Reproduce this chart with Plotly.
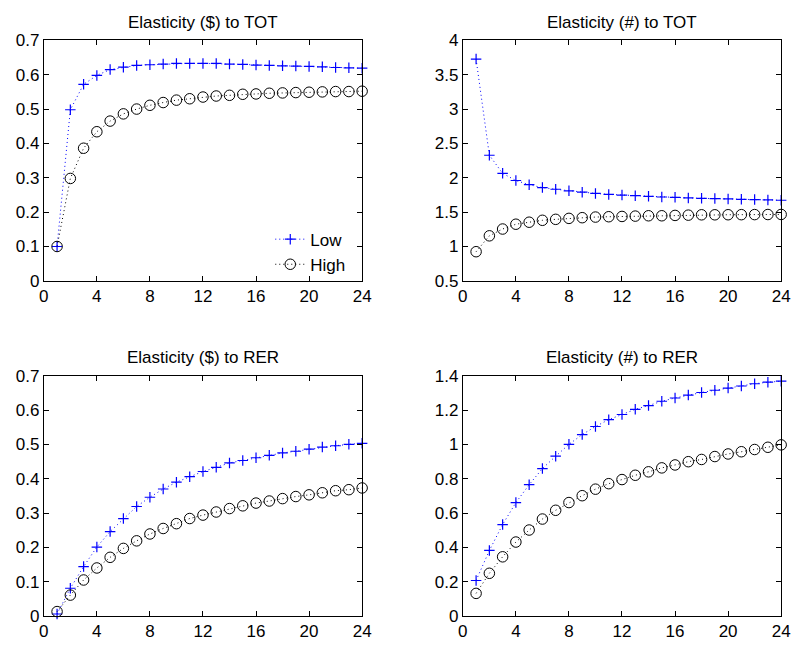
import plotly.graph_objects as go

periods = list(range(1, 25))

usd_tot_low = [0.100, 0.498, 0.572, 0.598, 0.615, 0.622, 0.627, 0.629, 0.631, 0.633, 0.633, 0.633,
               0.633, 0.631, 0.630, 0.628, 0.627, 0.626, 0.625, 0.624, 0.623, 0.621, 0.620, 0.619]
usd_tot_high = [0.100, 0.298, 0.386, 0.434, 0.465, 0.486, 0.500, 0.511, 0.519, 0.526, 0.530, 0.535,
                0.538, 0.540, 0.543, 0.544, 0.546, 0.547, 0.548, 0.549, 0.550, 0.551, 0.551, 0.552]

num_tot_low = [3.727, 2.328, 2.064, 1.960, 1.899, 1.857, 1.833, 1.810, 1.791, 1.772, 1.758, 1.748,
               1.739, 1.730, 1.720, 1.715, 1.706, 1.701, 1.697, 1.692, 1.687, 1.682, 1.678, 1.673]
num_tot_high = [0.924, 1.155, 1.254, 1.324, 1.353, 1.381, 1.395, 1.409, 1.419, 1.428, 1.433, 1.437,
                1.442, 1.447, 1.447, 1.452, 1.456, 1.461, 1.461, 1.462, 1.463, 1.464, 1.465, 1.466]

usd_rer_low = [0.006, 0.081, 0.144, 0.201, 0.246, 0.284, 0.319, 0.346, 0.370, 0.390, 0.406, 0.421,
               0.433, 0.446, 0.453, 0.461, 0.468, 0.475, 0.480, 0.486, 0.492, 0.496, 0.500, 0.503]
usd_rer_high = [0.013, 0.061, 0.105, 0.140, 0.171, 0.197, 0.219, 0.239, 0.255, 0.269, 0.284, 0.294,
                0.303, 0.313, 0.321, 0.329, 0.335, 0.342, 0.348, 0.353, 0.359, 0.365, 0.368, 0.373]

num_rer_low = [0.207, 0.382, 0.533, 0.661, 0.765, 0.859, 0.931, 1.000, 1.057, 1.104, 1.144, 1.174,
               1.204, 1.226, 1.251, 1.270, 1.287, 1.302, 1.315, 1.328, 1.340, 1.353, 1.362, 1.368]
num_rer_high = [0.132, 0.249, 0.345, 0.431, 0.501, 0.565, 0.616, 0.661, 0.701, 0.739, 0.771, 0.795,
                0.820, 0.840, 0.863, 0.880, 0.899, 0.912, 0.929, 0.944, 0.957, 0.970, 0.983, 0.997]

titles = ["Elasticity ($) to TOT", "Elasticity (#) to TOT",
          "Elasticity ($) to RER", "Elasticity (#) to RER"]
series_names = ["Low", "High"]
panels = [(usd_tot_low, usd_tot_high), (num_tot_low, num_tot_high),
          (usd_rer_low, usd_rer_high), (num_rer_low, num_rer_high)]
y_ranges = [(0, 0.7), (0.5, 4), (0, 0.7), (0, 1.4)]
y_ticks = [[0, 0.1, 0.2, 0.3, 0.4, 0.5, 0.6, 0.7],
           [0.5, 1, 1.5, 2, 2.5, 3, 3.5, 4],
           [0, 0.1, 0.2, 0.3, 0.4, 0.5, 0.6, 0.7],
           [0, 0.2, 0.4, 0.6, 0.8, 1, 1.2, 1.4]]
y_ticktext = [["0", "0.1", "0.2", "0.3", "0.4", "0.5", "0.6", "0.7"],
              ["0.5", "1", "1.5", "2", "2.5", "3", "3.5", "4"],
              ["0", "0.1", "0.2", "0.3", "0.4", "0.5", "0.6", "0.7"],
              ["0", "0.2", "0.4", "0.6", "0.8", "1", "1.2", "1.4"]]
x_ticks = [0, 4, 8, 12, 16, 20, 24]

W, H = 799, 651
FONT = "Liberation Sans, Arial, sans-serif"
FS = 17

x_domains = [(39.5 / W, 363.5 / W), (466 / W, 790 / W)]
y_domains = [((H - 280) / H, (H - 32.3) / H), ((H - 625.3) / H, (H - 377.7) / H)]

fig = go.Figure()
layout = dict(
    width=W, height=H, autosize=False,
    margin=dict(l=0, r=0, t=0, b=0),
    paper_bgcolor="white", plot_bgcolor="white",
    font=dict(family=FONT, size=FS, color="black"),
    showlegend=True,
    legend=dict(x=270 / W, y=(H - 219) / H, xanchor="left", yanchor="top",
                bgcolor="rgba(0,0,0,0)", borderwidth=0,
                font=dict(family=FONT, size=FS, color="black"),
                tracegroupgap=0, itemwidth=30),
)

annotations = []
for i, (low, high) in enumerate(panels):
    r, c = divmod(i, 2)
    xa = "x" if i == 0 else f"x{i+1}"
    ya = "y" if i == 0 else f"y{i+1}"
    fig.add_trace(go.Scatter(
        x=periods, y=low, xaxis=xa, yaxis=ya, name=series_names[0],
        mode="lines+markers", cliponaxis=False, showlegend=(i == 0),
        line=dict(color="#0000ff", width=1, dash="1px,3px"),
        marker=dict(symbol="cross-thin", size=7.5, color="#0000ff",
                    line=dict(color="#0000ff", width=1.2)),
    ))
    fig.add_trace(go.Scatter(
        x=periods, y=high, xaxis=xa, yaxis=ya, name=series_names[1],
        mode="lines+markers", cliponaxis=False, showlegend=(i == 0),
        line=dict(color="black", width=1, dash="1px,3px"),
        marker=dict(symbol="circle-open", size=10.5, color="black",
                    line=dict(color="black", width=1)),
    ))
    axis_common = dict(showline=True, linecolor="black", linewidth=1, mirror="ticks",
                       ticks="inside", ticklen=5, tickwidth=1, tickcolor="black",
                       showgrid=False, zeroline=False,
                       tickfont=dict(family=FONT, size=FS, color="black"))
    xkey = "xaxis" if i == 0 else f"xaxis{i+1}"
    ykey = "yaxis" if i == 0 else f"yaxis{i+1}"
    layout[xkey] = dict(axis_common, domain=list(x_domains[c]), anchor=ya,
                        range=[0, 24], tickmode="array", tickvals=x_ticks,
                        ticktext=[str(t) for t in x_ticks])
    layout[ykey] = dict(axis_common, domain=list(y_domains[r]), anchor=xa,
                        range=list(y_ranges[i]), tickmode="array", tickvals=y_ticks[i],
                        ticktext=y_ticktext[i])
    xc = (x_domains[c][0] + x_domains[c][1]) / 2
    ytop_px = 32.3 if r == 0 else 377.7
    annotations.append(dict(text=titles[i], xref="paper", yref="paper",
                            x=xc, y=(H - (ytop_px - 18.3)) / H,
                            xanchor="center", yanchor="middle", showarrow=False,
                            font=dict(family=FONT, size=FS, color="black")))

layout["annotations"] = annotations
fig.update_layout(**layout)
fig.write_html("out.html")
